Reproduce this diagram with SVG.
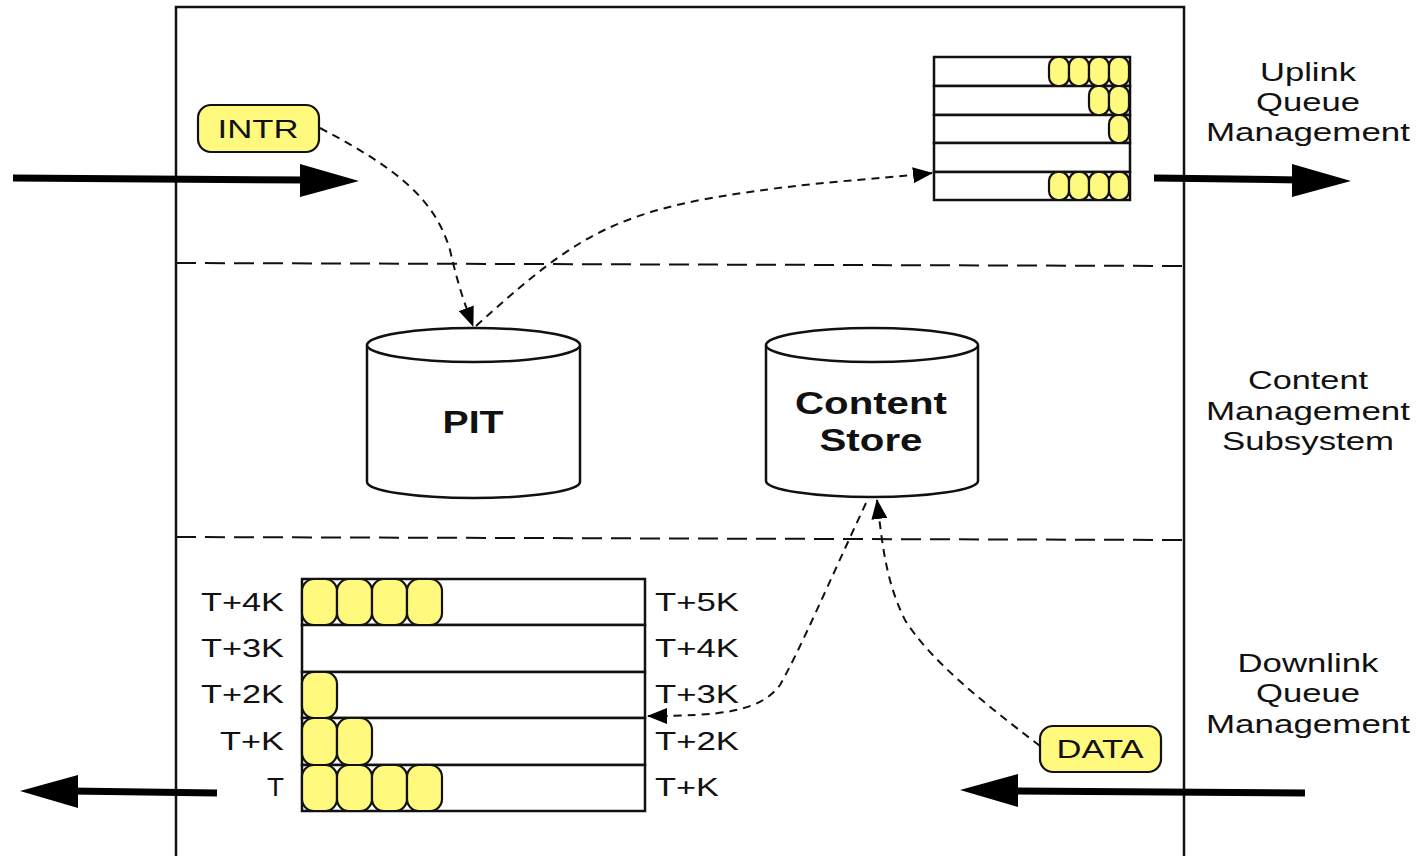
<svg xmlns="http://www.w3.org/2000/svg" width="1418" height="856" viewBox="0 0 1418 856">
<style>
.t{font-family:"Liberation Sans",Arial,sans-serif;font-size:26px;fill:#111}
.b{font-family:"Liberation Sans",Arial,sans-serif;font-size:31px;font-weight:bold;fill:#111}
.q{fill:#fff;stroke:#111;stroke-width:2.5}
.p{fill:#fff97d;stroke:#111;stroke-width:2.2}
.d{fill:none;stroke:#111;stroke-width:2;stroke-dasharray:8 6}
.sep{fill:none;stroke:#111;stroke-width:2;stroke-dasharray:20 9}
.thick{fill:none;stroke:#000;stroke-width:7}
.cyl{fill:#fff;stroke:#111;stroke-width:2.5}
</style>
<defs>
<marker id="ah" markerWidth="20" markerHeight="16" refX="19" refY="8" orient="auto" markerUnits="userSpaceOnUse" viewBox="0 0 20 16">
<path d="M0,0 L20,8 L0,16 Z" fill="#000"/>
</marker>
</defs>
<rect width="1418" height="856" fill="#fff"/>
<g id="frame">
<rect x="176" y="7" width="1008" height="880" fill="none" stroke="#111" stroke-width="2.5"/>
<path class="sep" d="M176,263 L1184,266"/>
<path class="sep" d="M176,537 L1184,540"/>
</g>
<g id="labels">
<text class="t" x="1308" y="81" text-anchor="middle" textLength="96" lengthAdjust="spacingAndGlyphs">Uplink</text>
<text class="t" x="1308" y="111" text-anchor="middle" textLength="104" lengthAdjust="spacingAndGlyphs">Queue</text>
<text class="t" x="1308" y="141" text-anchor="middle" textLength="204" lengthAdjust="spacingAndGlyphs">Management</text>
<text class="t" x="1308" y="389" text-anchor="middle" textLength="120" lengthAdjust="spacingAndGlyphs">Content</text>
<text class="t" x="1308" y="420" text-anchor="middle" textLength="204" lengthAdjust="spacingAndGlyphs">Management</text>
<text class="t" x="1308" y="450" text-anchor="middle" textLength="172" lengthAdjust="spacingAndGlyphs">Subsystem</text>
<text class="t" x="1308" y="672" text-anchor="middle" textLength="141" lengthAdjust="spacingAndGlyphs">Downlink</text>
<text class="t" x="1308" y="702" text-anchor="middle" textLength="104" lengthAdjust="spacingAndGlyphs">Queue</text>
<text class="t" x="1308" y="733" text-anchor="middle" textLength="204" lengthAdjust="spacingAndGlyphs">Management</text>
</g>
<g id="uplink-queue">
<rect class="q" x="934" y="57" width="196" height="29"/>
<rect class="q" x="934" y="86" width="196" height="29"/>
<rect class="q" x="934" y="115" width="196" height="28"/>
<rect class="q" x="934" y="143" width="196" height="29"/>
<rect class="q" x="934" y="172" width="196" height="28"/>
<rect class="p" x="1049" y="57" width="20" height="29" rx="9"/>
<rect class="p" x="1069" y="57" width="20" height="29" rx="9"/>
<rect class="p" x="1089" y="57" width="20" height="29" rx="9"/>
<rect class="p" x="1109" y="57" width="20" height="29" rx="9"/>
<rect class="p" x="1089" y="86" width="20" height="29" rx="9"/>
<rect class="p" x="1109" y="86" width="20" height="29" rx="9"/>
<rect class="p" x="1109" y="115" width="20" height="28" rx="9"/>
<rect class="p" x="1049" y="172" width="20" height="28" rx="9"/>
<rect class="p" x="1069" y="172" width="20" height="28" rx="9"/>
<rect class="p" x="1089" y="172" width="20" height="28" rx="9"/>
<rect class="p" x="1109" y="172" width="20" height="28" rx="9"/>
</g>
<g id="intr">
<rect class="p" x="198" y="105" width="121" height="47" rx="13"/>
<text class="t" x="258" y="138" text-anchor="middle" textLength="81" lengthAdjust="spacingAndGlyphs">INTR</text>
</g>
<g id="data">
<rect class="p" x="1040" y="726" width="121" height="46" rx="13"/>
<text class="t" x="1100" y="758" text-anchor="middle" textLength="87" lengthAdjust="spacingAndGlyphs">DATA</text>
</g>
<g id="pit">
<path class="cyl" d="M367,345 L367,482 A106.5,16 0 0 0 580,482 L580,345"/>
<ellipse class="cyl" cx="473.5" cy="345" rx="106.5" ry="17"/>
<text class="b" x="473" y="433" text-anchor="middle" textLength="61" lengthAdjust="spacingAndGlyphs">PIT</text>
</g>
<g id="content-store">
<path class="cyl" d="M766,345 L766,481 A106,16 0 0 0 978,481 L978,345"/>
<ellipse class="cyl" cx="872" cy="345" rx="106" ry="17"/>
<text class="b" x="871" y="414" text-anchor="middle" textLength="152" lengthAdjust="spacingAndGlyphs">Content</text>
<text class="b" x="871" y="451" text-anchor="middle" textLength="103" lengthAdjust="spacingAndGlyphs">Store</text>
</g>
<g id="downlink-queue">
<rect class="q" x="302" y="579" width="343" height="46"/>
<rect class="q" x="302" y="625" width="343" height="47"/>
<rect class="q" x="302" y="672" width="343" height="46"/>
<rect class="q" x="302" y="718" width="343" height="47"/>
<rect class="q" x="302" y="765" width="343" height="46"/>
<rect class="p" x="302" y="579" width="35" height="46" rx="12"/>
<rect class="p" x="337" y="579" width="35" height="46" rx="12"/>
<rect class="p" x="372" y="579" width="35" height="46" rx="12"/>
<rect class="p" x="407" y="579" width="35" height="46" rx="12"/>
<rect class="p" x="302" y="672" width="35" height="46" rx="12"/>
<rect class="p" x="302" y="718" width="35" height="47" rx="12"/>
<rect class="p" x="337" y="718" width="35" height="47" rx="12"/>
<rect class="p" x="302" y="765" width="35" height="46" rx="12"/>
<rect class="p" x="337" y="765" width="35" height="46" rx="12"/>
<rect class="p" x="372" y="765" width="35" height="46" rx="12"/>
<rect class="p" x="407" y="765" width="35" height="46" rx="12"/>
<text class="t" x="284" y="611" text-anchor="end" textLength="83" lengthAdjust="spacingAndGlyphs">T+4K</text>
<text class="t" x="284" y="657" text-anchor="end" textLength="83" lengthAdjust="spacingAndGlyphs">T+3K</text>
<text class="t" x="284" y="703" text-anchor="end" textLength="83" lengthAdjust="spacingAndGlyphs">T+2K</text>
<text class="t" x="284" y="750" text-anchor="end" textLength="64" lengthAdjust="spacingAndGlyphs">T+K</text>
<text class="t" x="284" y="796" text-anchor="end" textLength="17" lengthAdjust="spacingAndGlyphs">T</text>
<text class="t" x="655" y="611" textLength="84" lengthAdjust="spacingAndGlyphs">T+5K</text>
<text class="t" x="655" y="657" textLength="84" lengthAdjust="spacingAndGlyphs">T+4K</text>
<text class="t" x="655" y="703" textLength="84" lengthAdjust="spacingAndGlyphs">T+3K</text>
<text class="t" x="655" y="750" textLength="84" lengthAdjust="spacingAndGlyphs">T+2K</text>
<text class="t" x="655" y="796" textLength="64" lengthAdjust="spacingAndGlyphs">T+K</text>
</g>
<g id="connectors">
<path class="d" d="M320,128 C400,170 435,200 450,250 C458,285 465,305 473,326" marker-end="url(#ah)"/>
<path class="d" d="M476,326 C560,250 600,220 700,200 C800,182 870,180 932,173" marker-end="url(#ah)"/>
<path class="d" d="M866,503 C830,580 800,650 780,685 C760,712 720,716 648,716" marker-end="url(#ah)"/>
<path class="d" d="M1040,746 C980,700 930,660 905,620 C885,580 882,540 877,500" marker-end="url(#ah)"/>
<path class="thick" d="M13,178 L308,180"/>
<path d="M300,164 L359,181 L300,197 Z" fill="#000"/>
<path class="thick" d="M1154,178 L1300,180"/>
<path d="M1292,164 L1351,181 L1292,197 Z" fill="#000"/>
<path class="thick" d="M217,793 L70,791"/>
<path d="M78,775 L20,791 L78,808 Z" fill="#000"/>
<path class="thick" d="M1305,793 L1010,791"/>
<path d="M1018,774 L960,790 L1018,807 Z" fill="#000"/>
</g>
</svg>
